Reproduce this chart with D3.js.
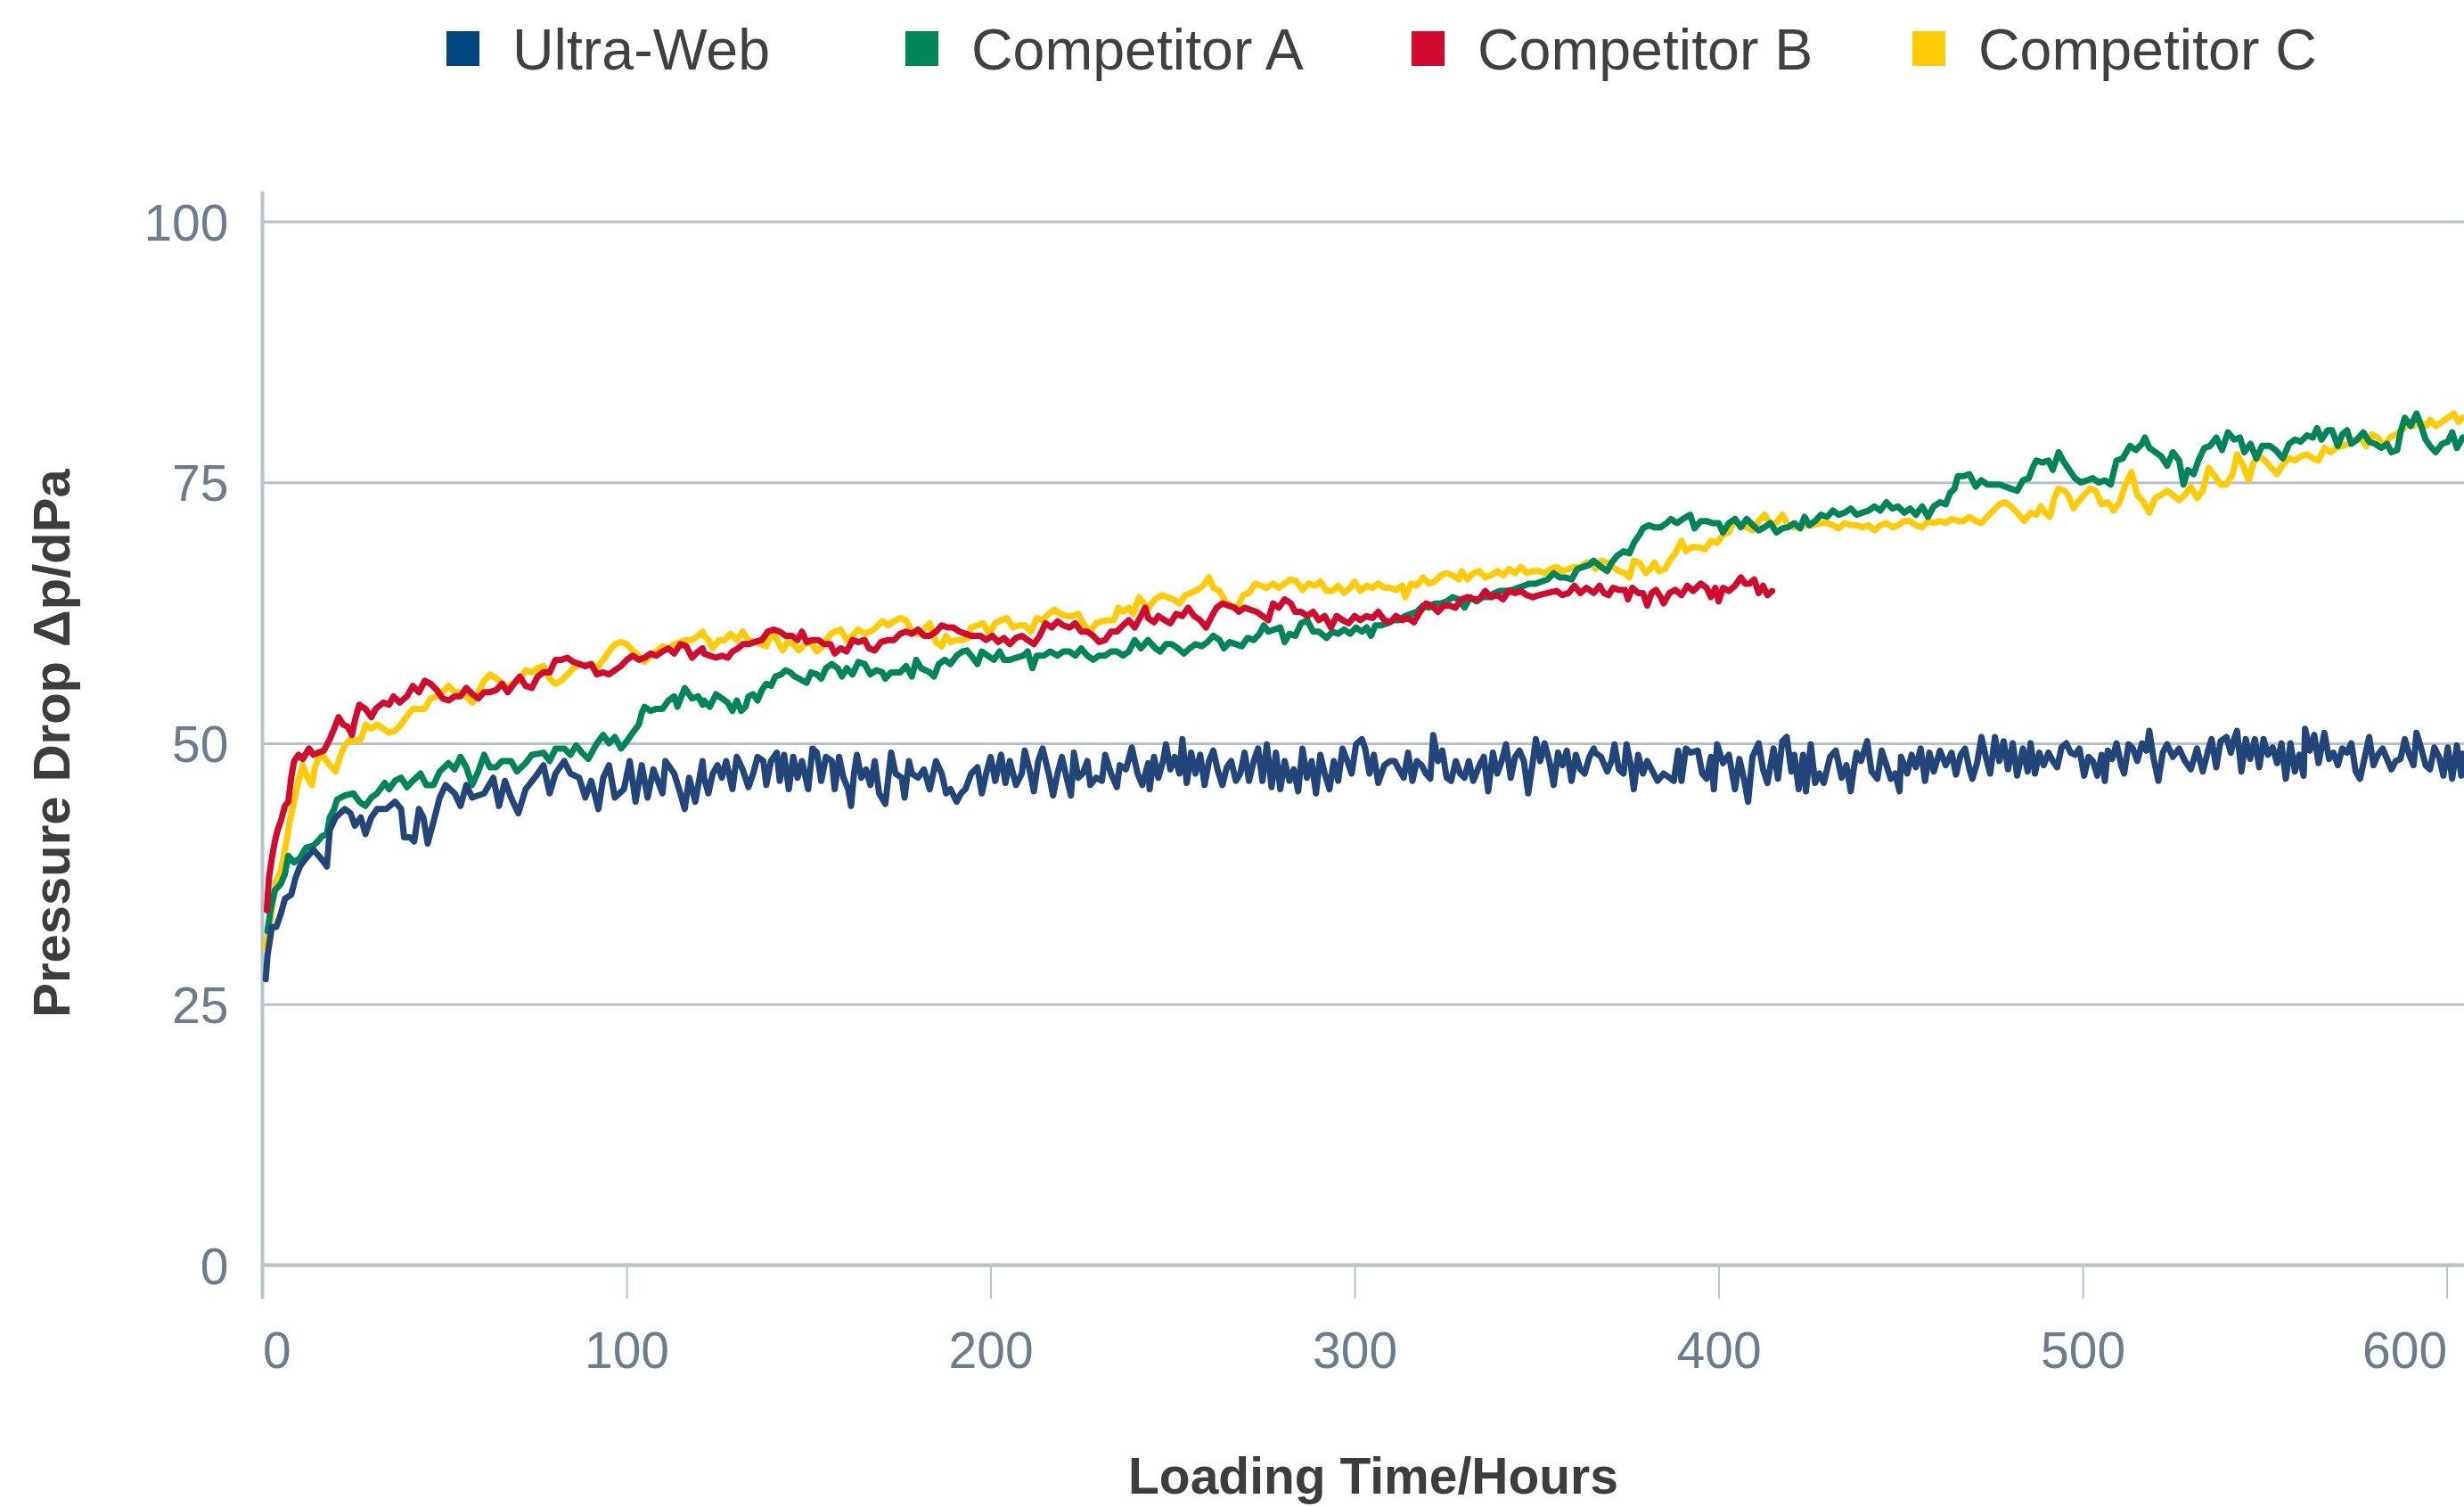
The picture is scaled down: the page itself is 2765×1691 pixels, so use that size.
<!DOCTYPE html>
<html><head><meta charset="utf-8">
<script src="https://cdn.jsdelivr.net/npm/d3@7"></script>
<style>html,body{margin:0;padding:0;background:#fff;overflow:hidden}</style>
</head><body><svg id="chart" width="2765" height="1691"></svg>
<script>
const seriesNames = ["Ultra-Web", "Competitor A", "Competitor B", "Competitor C"];
const seriesColors = ["#23467a", "#00845a", "#d20a2e", "#ffcb05"];
const legendColors = ["#00477f", "#00845a", "#d20a2e", "#ffcb05"];
const xTicks = [0, 100, 200, 300, 400, 500, 600];
const yTicks = [0, 25, 50, 75, 100];
const xTitle = "Loading Time/Hours";
const yTitle = "Pressure Drop Δp/dPa";

// [hours, pressure drop]
const ultraWeb = [
[0.9,27.4],[1.4,29.7],[2.6,32.4],[3.8,32.4],[5.0,33.6],[6.2,35.1],[7.9,35.5],[9.1,37.1],[10.3,38.2],[12.0,39.0],[14.0,39.8],[16.0,39.0],[17.7,38.2],[18.5,41.7],[20.1,42.9],[22.6,43.7],[24.2,43.3],[25.4,42.1],[27.0,42.9],[28.3,41.3],[29.9,42.9],[31.5,43.7],[34.0,43.7],[36.4,44.4],[38.1,43.7],[38.9,41.0],[40.5,41.0],[41.7,40.6],[43.0,43.7],[44.2,42.9],[45.4,40.4],[47.0,42.5],[48.7,44.8],[50.3,46.0],[52.8,45.2],[54.4,44.0],[56.0,46.0],[57.6,44.8],[60.9,45.2],[63.4,46.7],[65.0,44.0],[66.6,46.4],[68.3,44.8],[70.3,43.3],[72.3,45.6],[74.8,46.7],[77.2,47.9],[78.9,45.2],[80.5,47.1],[82.9,48.3],[84.6,47.1],[87.0,46.7],[88.7,44.8],[90.3,46.4],[92.3,43.7],[93.6,46.7],[95.2,47.9],[96.8,44.8],[99.3,45.6],[100.9,48.3],[102.5,44.4],[104.2,47.9],[105.8,44.8],[107.4,47.5],[109.9,45.2],[110.7,48.3],[113.1,47.1],[114.8,45.2],[116.0,43.7],[117.2,46.7],[118.9,44.4],[120.9,48.3],
[121.3,46.7],[122.5,45.2],[123.7,47.1],[125.0,47.9],[126.2,46.7],[127.4,48.3],[129.1,45.6],[130.3,48.7],[131.9,47.5],[133.5,45.8],[134.8,47.1],[136.0,48.7],[137.6,48.3],[138.4,46.0],[139.7,48.3],[141.3,49.1],[142.1,46.4],[143.3,48.9],[144.6,45.6],[145.8,48.7],[147.0,46.7],[148.2,48.3],[149.9,45.6],[151.1,49.5],[152.3,49.1],[153.5,46.4],[154.8,48.7],[156.4,48.3],[157.2,45.6],[158.4,48.7],[159.6,46.7],[160.9,45.6],[161.7,44.0],[162.5,47.1],[163.3,48.9],[164.5,46.7],[165.8,47.5],[167.0,46.0],[168.2,48.3],[169.4,45.2],[171.1,44.2],[172.7,49.1],[173.9,47.1],[175.6,46.7],[176.4,44.8],[177.6,48.3],[178.4,47.1],[180.1,46.7],[181.7,47.5],[183.3,45.6],[185.0,48.3],[186.6,47.1],[187.8,45.2],[189.0,45.6],[190.7,44.4],[191.9,45.2],[193.1,45.6],[194.7,47.1],[196.4,47.7],[197.6,45.2],[198.8,47.1],[200.0,48.7],[201.3,46.4],[202.9,48.9],[204.1,46.2],[205.3,48.3],[207.0,46.0],[208.6,47.1],[209.4,49.3],[210.7,47.5],[211.9,45.4],[213.1,48.3],[214.3,49.5],[216.0,47.1],[217.2,45.0],[218.4,47.1],[219.6,48.7],[220.9,46.7],[222.1,45.0],[222.9,49.1],[224.1,46.7],[225.3,47.1],[226.6,48.3],[227.4,46.0],[229.0,46.7],[230.6,46.4],[231.5,48.9],[233.1,47.1],[234.7,45.8],[235.5,47.9],[237.2,47.5],[238.8,49.6],[240.4,47.1],[241.7,46.0],[243.3,48.1],
[243.7,45.6],[244.9,48.7],[246.1,46.7],[247.4,48.3],[248.2,49.9],[249.4,47.5],[250.6,48.7],[251.9,47.1],[252.7,50.4],[253.9,46.2],[255.1,49.1],[256.3,47.1],[257.6,48.9],[258.8,46.0],[260.0,48.3],[261.2,49.3],[262.5,47.3],[263.7,46.0],[264.9,47.7],[266.1,48.3],[267.4,46.4],[268.6,47.1],[269.8,49.1],[271.0,46.4],[272.3,48.3],[273.5,49.5],[274.7,46.4],[275.9,49.9],[277.2,45.8],[278.4,49.1],[279.6,45.6],[280.8,48.3],[282.1,46.4],[283.3,47.5],[284.5,45.4],[285.7,49.5],[286.9,46.7],[288.2,48.3],[289.4,45.2],[290.6,48.9],[291.8,47.1],[293.1,45.6],[294.3,48.3],[295.5,46.4],[296.7,49.5],[298.0,48.3],[299.2,47.1],[300.4,49.9],[302.0,50.4],[302.9,49.5],[304.1,47.1],[305.3,48.9],[306.5,46.2],[308.2,47.9],[309.8,48.3],[311.0,48.3],[312.2,47.5],[313.5,46.7],[314.7,49.1],[315.9,46.4],[317.1,48.3],[318.4,47.9],[319.6,47.1],[320.8,46.6],[321.6,50.8],[322.9,48.3],[324.1,49.3],[325.3,46.7],[326.5,46.4],[327.8,48.3],[329.0,47.1],[330.2,46.7],[331.4,48.3],[332.6,46.4],[334.3,47.9],[335.5,48.7],[336.7,45.4],[338.0,49.1],[339.2,47.1],[340.4,48.3],[341.6,49.9],[342.9,46.7],[344.1,48.7],[345.3,49.3],[346.5,48.3],[347.7,45.2],[349.0,48.3],[349.8,50.4],[351.0,48.3],[352.2,50.0],[353.5,48.3],[354.7,46.0],[355.9,49.1],[357.1,47.9],[358.3,49.3],[359.6,46.4],[360.8,48.9],[362.0,47.5],[363.2,47.1],[364.5,48.7],[365.7,49.5],
[366.1,49.1],[367.7,48.7],[369.4,47.3],[370.6,48.3],[371.4,49.9],[372.6,47.5],[373.9,47.1],[374.7,49.9],[375.9,47.9],[376.7,45.6],[377.9,48.9],[379.2,47.1],[380.4,48.3],[381.6,47.5],[383.2,46.4],[384.9,47.1],[386.5,46.7],[387.7,46.4],[388.9,49.3],[389.8,46.4],[391.0,49.5],[392.2,49.1],[394.3,49.3],[395.5,47.1],[396.7,46.6],[397.9,48.7],[398.7,45.6],[399.6,49.9],[401.2,48.1],[402.8,48.9],[404.5,45.6],[405.7,48.5],[406.9,46.7],[408.1,44.4],[409.3,48.7],[411.0,50.0],[412.2,47.5],[413.4,46.2],[415.1,49.5],[416.3,46.6],[417.5,50.2],[418.7,50.6],[420.0,47.3],[420.8,48.9],[422.0,45.6],[423.2,48.9],[424.0,45.4],[425.3,49.9],[426.5,46.2],[427.7,47.1],[428.9,46.2],[430.6,48.7],[432.2,49.3],[433.8,46.7],[435.1,47.9],[436.3,45.4],[437.1,47.5],[437.9,49.1],[439.1,48.3],[440.8,50.2],[442.0,47.3],[443.6,46.6],[444.8,49.3],[446.1,47.9],[447.3,46.6],[448.5,47.1],[449.7,45.4],[450.1,48.7],[451.8,47.1],[453.0,48.9],[454.2,47.7],[455.5,49.5],[456.7,46.4],[457.9,49.1],[459.1,47.3],[460.8,49.3],[462.4,47.9],[464.0,49.1],[465.2,47.0],[466.5,48.9],[467.7,49.5],[468.9,47.5],[469.7,46.6],[471.0,48.1],[472.2,50.6],[473.4,48.7],[474.6,47.1],[475.9,50.6],[477.1,48.3],[478.3,50.2],[479.5,47.5],[480.8,50.0],[482.0,46.9],
[483.6,49.5],[484.9,47.3],[485.7,50.0],[486.9,47.1],[488.1,49.1],[489.3,47.9],[490.6,49.1],[491.8,48.3],[493.0,47.7],[494.2,49.6],[495.5,50.0],[496.7,49.1],[497.9,48.9],[499.1,49.5],[500.4,46.9],[501.6,48.7],[502.8,48.3],[504.0,46.9],[505.2,48.9],[506.1,46.4],[506.9,49.3],[508.1,48.5],[509.3,50.0],[510.6,47.9],[511.4,47.1],[512.6,49.9],[513.8,49.5],[515.0,48.3],[516.3,50.0],[517.5,49.3],[518.3,51.2],[519.5,48.5],[520.8,46.4],[522.0,49.1],[523.2,49.9],[524.8,48.7],[526.5,49.5],[528.1,48.3],[529.7,47.5],[531.4,49.5],[533.0,47.3],[534.6,49.5],[535.4,50.4],[536.7,47.7],[537.9,50.2],[539.5,50.6],[540.7,49.1],[541.6,50.4],[542.4,51.2],[543.6,47.3],[544.8,50.4],[546.0,48.5],[547.3,50.4],[548.5,47.7],[549.7,50.4],[550.9,48.9],[552.2,49.6],[553.4,48.1],[554.6,50.0],[555.8,46.6],[557.1,50.0],[558.3,47.3],[559.5,48.9],[560.7,46.9],[561.1,51.4],[562.4,49.3],[563.6,50.8],[564.8,48.1],[566.4,51.0],[567.7,48.5],[568.9,49.1],[570.1,47.9],[571.3,49.5],[572.6,49.1],[573.8,50.0],[575.0,47.3],[576.2,46.6],[577.5,48.7],[578.7,50.6],[579.9,47.9],[581.1,48.9],[582.4,49.5],[583.6,48.5],[584.8,47.5],[586.0,48.3],[587.3,48.5],[588.5,50.4],[589.7,48.9],[590.9,47.9],[591.7,51.0],[593.0,49.5],[594.2,47.9],[595.4,47.5],[596.6,49.6],[597.9,48.7],[599.1,46.9],[600.3,49.6],[601.5,46.6],[602.8,49.8],[604.0,46.9],[604.4,49.0]
];

const competitorA = [
[1.4,32.0],[2.2,34.0],[3.4,35.9],[5.0,36.5],[6.2,37.5],[7.1,39.2],[8.7,38.6],[10.3,39.0],[12.0,40.0],[14.0,40.2],[15.2,40.6],[16.4,41.1],[17.7,41.3],[18.5,42.9],[19.7,43.7],[20.5,44.6],[22.6,45.0],[25.0,45.2],[26.6,44.4],[28.3,44.0],[29.9,44.8],[31.5,45.2],[33.6,46.2],[34.8,45.6],[36.4,46.4],[38.1,46.7],[39.7,45.8],[41.3,46.4],[43.4,47.1],[45.0,46.0],[47.0,46.0],[48.7,47.3],[51.1,48.1],[52.8,47.5],[54.4,48.7],[56.0,47.7],[57.6,46.0],[59.3,47.3],[60.9,48.9],[62.5,47.7],[64.2,47.7],[65.8,48.3],[68.3,48.3],[69.9,47.3],[72.3,48.1],[74.0,48.9],[77.2,49.1],[78.9,48.3],[80.5,49.5],[82.9,49.5],[84.6,48.9],[86.2,49.8],[87.8,49.1],[89.5,48.5],[91.9,50.0],[93.6,50.8],[95.2,50.0],[96.8,50.6],[98.5,49.5],[100.1,50.2],[101.7,51.0],[103.4,51.8],[104.2,52.9],[105.0,53.5],[106.6,53.1],[108.2,53.3],[109.9,53.3],[111.5,54.1],[113.1,54.5],[114.0,53.5],[116.0,55.3],[118.0,54.3],[119.7,54.5],[120.9,53.7],
[121.3,54.1],[122.9,53.5],[124.6,54.7],[126.2,54.3],[127.8,53.9],[129.1,53.1],[130.3,54.1],[131.5,53.1],[132.7,53.5],[133.5,54.5],[134.8,54.7],[136.0,54.1],[137.2,55.1],[138.4,55.7],[139.7,55.5],[140.9,56.4],[142.5,56.6],[143.7,57.0],[145.0,56.8],[146.2,56.4],[147.4,56.2],[149.5,55.8],[150.7,56.8],[152.3,56.6],[153.5,56.2],[154.8,57.2],[156.4,57.6],[158.0,57.2],[159.2,56.4],[160.5,57.2],[162.1,56.6],[163.7,57.8],[165.4,57.6],[167.0,56.6],[168.6,57.0],[170.3,56.8],[171.1,56.2],[172.7,56.8],[175.2,56.8],[176.8,57.4],[178.4,56.4],[179.6,58.0],[180.9,57.2],[183.3,56.8],[184.5,56.4],[185.8,57.6],[187.4,58.0],[189.0,57.6],[190.7,58.4],[192.3,58.8],[193.5,58.9],[194.7,58.4],[196.4,57.6],[197.6,58.8],[199.2,58.4],[200.9,58.0],[202.5,58.8],[203.7,58.0],[205.3,58.0],[207.0,58.2],[209.0,58.4],[210.2,58.8],[211.5,57.2],[212.7,58.4],[214.7,58.4],[216.4,58.8],[218.4,58.4],[220.0,58.8],[221.7,58.8],[223.3,58.4],[224.9,59.1],[226.6,58.4],[228.2,58.0],[229.8,58.4],[231.5,58.4],[233.1,58.8],[234.7,58.8],[236.4,58.4],[238.0,58.8],[239.6,59.9],[241.3,59.1],[243.3,59.9],
[243.7,59.7],[245.3,59.1],[246.6,58.8],[248.2,59.5],[249.8,59.5],[251.5,59.1],[253.1,58.6],[254.7,59.1],[256.3,59.5],[258.0,59.3],[259.6,59.7],[261.2,60.3],[262.9,59.9],[264.1,59.1],[265.7,59.7],[267.4,59.5],[269.0,59.3],[270.6,60.1],[272.3,59.9],[273.9,60.5],[275.1,61.3],[276.3,60.7],[278.0,60.9],[279.6,61.1],[280.8,59.7],[282.1,60.5],[283.7,60.3],[285.3,61.5],[287.0,61.8],[288.6,60.7],[290.2,60.7],[292.3,60.1],[293.9,60.7],[295.5,60.5],[297.1,60.9],[298.8,60.5],[300.4,61.1],[302.0,60.7],[303.3,61.1],[304.5,60.3],[305.7,61.3],[307.3,61.3],[309.0,61.5],[310.6,61.8],[312.2,61.8],[313.9,62.2],[315.5,62.4],[317.1,62.6],[318.8,63.2],[320.4,63.0],[322.0,63.4],[323.7,63.4],[325.3,63.6],[326.9,64.0],[328.6,63.8],[330.2,63.0],[331.8,64.0],[333.5,63.6],[335.1,64.0],[336.7,64.0],[338.4,64.4],[340.0,64.6],[341.6,64.6],[343.3,64.7],[344.9,64.9],[346.5,65.1],[348.1,65.3],[349.8,65.3],[351.4,65.5],[353.0,65.7],[354.7,66.3],[356.3,65.9],[357.9,65.9],[359.6,65.7],[361.2,66.7],[362.8,66.9],[364.5,67.1],[365.7,67.5],
[367.7,66.9],[369.4,66.5],[370.6,67.3],[372.2,68.0],[373.9,68.4],[375.5,68.2],[376.7,69.2],[378.3,70.0],[379.2,70.6],[380.8,70.9],[382.4,70.7],[384.1,70.7],[385.7,71.1],[386.9,71.5],[388.5,71.1],[390.2,71.5],[392.2,71.9],[393.4,70.6],[395.1,71.3],[396.7,71.3],[398.3,71.1],[400.0,71.1],[401.2,70.2],[402.8,71.1],[404.5,71.5],[406.1,70.7],[407.7,71.5],[409.4,70.9],[411.0,70.4],[412.6,70.7],[414.2,71.1],[415.9,70.2],[417.5,70.6],[419.1,70.7],[420.8,71.1],[422.4,70.6],[423.6,71.7],[424.9,70.9],[426.5,71.3],[428.1,71.9],[429.8,71.7],[431.4,72.3],[433.0,71.9],[434.6,72.1],[436.3,72.5],[437.9,71.9],[439.5,72.1],[441.2,72.3],[442.8,72.7],[444.4,72.3],[446.1,73.1],[447.7,72.5],[449.3,72.7],[451.0,72.1],[452.6,72.5],[454.2,71.9],[455.9,72.7],[457.5,71.7],[459.1,72.7],[460.8,73.1],[462.4,72.9],[463.6,74.0],[464.8,74.4],[465.7,75.6],[467.3,75.6],[468.9,75.8],[470.6,74.6],[472.2,75.2],[473.8,74.8],[475.4,74.8],[477.1,74.8],[478.7,74.6],[480.3,74.4],[482.0,74.2],
[483.6,75.2],[485.2,75.4],[486.5,76.6],[487.3,77.1],[488.9,76.9],[490.6,77.1],[491.8,76.2],[493.4,77.9],[494.6,77.1],[496.3,76.2],[497.9,75.4],[499.5,75.0],[501.2,75.2],[502.8,75.4],[504.4,75.0],[506.1,75.2],[507.7,74.8],[509.3,77.1],[511.0,77.3],[513.0,78.5],[514.6,78.1],[516.3,78.7],[517.1,79.3],[518.3,78.3],[520.0,77.9],[521.6,77.5],[523.2,76.6],[524.8,77.9],[526.5,77.1],[527.7,74.8],[528.9,76.2],[530.5,75.8],[531.8,77.1],[533.4,78.3],[535.0,78.5],[536.7,79.3],[538.3,78.1],[539.9,79.8],[541.6,79.1],[543.2,79.3],[544.4,77.9],[546.1,78.7],[547.7,77.3],[549.3,78.5],[551.4,78.5],[553.0,78.1],[555.0,77.3],[556.7,78.7],[558.3,79.1],[559.9,78.9],[561.6,79.5],[563.2,79.3],[564.4,80.2],[565.6,79.1],[567.3,80.0],[568.5,80.0],[570.1,78.5],[571.3,79.6],[572.6,80.0],[573.8,78.7],[575.4,79.1],[577.1,79.8],[578.7,78.9],[580.3,78.7],[582.0,78.3],[583.6,78.7],[584.8,77.9],[586.4,78.1],[587.3,79.8],[588.5,81.2],[590.1,80.4],[591.7,81.6],[593.0,80.4],[594.2,79.1],[595.4,78.5],[597.0,77.9],[598.7,78.7],[600.3,78.9],[601.5,79.8],[602.8,78.3],[604.4,79.3]
];

const competitorB = [
[1.2,34.0],[1.8,37.1],[2.6,39.0],[3.4,40.6],[4.2,41.7],[5.0,42.5],[6.2,44.0],[7.1,44.4],[7.9,46.7],[8.7,48.3],[9.9,48.9],[11.1,48.5],[12.8,49.5],[14.0,48.9],[15.2,49.1],[16.9,49.3],[18.5,50.4],[19.7,51.4],[20.9,52.5],[22.2,51.8],[23.4,51.6],[24.6,50.8],[25.4,52.2],[26.6,53.7],[28.3,53.3],[29.9,52.5],[31.1,53.3],[33.2,53.9],[34.8,53.7],[36.0,54.5],[37.7,53.9],[39.7,54.5],[41.3,55.5],[43.0,54.9],[44.6,56.0],[46.2,55.7],[47.9,55.1],[49.5,54.3],[51.1,54.1],[52.8,54.5],[54.4,54.5],[56.0,55.3],[57.7,54.7],[59.3,54.3],[60.9,54.9],[62.5,54.9],[64.2,55.1],[65.8,55.7],[67.4,54.9],[69.1,55.7],[70.7,56.4],[72.3,55.5],[74.0,55.3],[75.6,56.4],[77.2,56.8],[78.9,56.8],[80.5,58.0],[82.1,58.0],[83.8,58.2],[85.4,57.8],[87.0,57.6],[88.7,57.4],[90.3,57.6],[91.9,56.6],[93.6,56.8],[95.2,56.6],[96.8,57.0],[98.5,57.4],[100.1,58.0],[101.7,58.4],[103.4,58.0],[105.0,58.2],[106.6,58.6],[108.2,58.4],[109.9,58.8],[111.5,59.1],[113.1,58.6],[114.8,59.5],[116.4,59.3],[118.0,58.2],[119.7,58.8],[120.9,59.1],
[121.3,58.6],[122.9,58.4],[124.6,58.2],[126.2,58.4],[127.8,58.2],[129.1,58.8],[130.7,59.1],[131.9,59.5],[133.5,59.5],[135.2,59.7],[137.2,59.9],[138.8,60.7],[140.5,60.9],[142.1,60.7],[143.7,60.3],[145.4,60.3],[147.0,59.9],[148.2,60.7],[149.5,59.7],[151.1,59.9],[152.7,59.9],[154.3,59.5],[156.0,59.5],[157.2,58.6],[158.8,59.1],[160.5,58.8],[162.1,59.9],[163.7,59.7],[165.4,59.9],[166.6,59.1],[168.2,58.9],[169.9,59.7],[171.9,59.9],[173.5,59.9],[175.2,60.5],[176.8,60.7],[178.4,60.5],[180.1,60.9],[181.7,60.3],[183.3,60.3],[185.0,60.7],[186.6,61.3],[188.2,61.1],[189.8,61.1],[191.5,60.7],[193.1,60.5],[194.7,60.3],[197.2,60.3],[198.8,59.9],[200.5,60.3],[202.1,59.7],[203.7,60.1],[205.3,59.5],[207.0,60.1],[208.6,60.3],[210.2,59.9],[211.9,59.5],[213.5,60.3],[215.1,61.5],[216.8,61.1],[218.4,61.7],[220.0,61.3],[221.7,61.1],[223.3,61.5],[224.9,60.7],[226.6,60.7],[228.2,60.3],[229.8,59.7],[231.5,59.9],[233.1,60.7],[234.7,60.7],[236.4,61.3],[238.0,61.8],[239.6,61.1],[241.3,62.2],[242.5,63.0],[243.3,62.0],
[244.9,61.6],[246.1,62.2],[247.8,61.8],[249.4,61.5],[251.0,62.4],[252.7,62.2],[254.3,63.0],[255.9,62.2],[257.6,61.8],[259.2,61.1],[260.8,62.2],[262.1,63.0],[263.7,63.4],[265.3,63.2],[267.0,63.0],[268.2,62.6],[269.8,63.0],[271.4,62.8],[273.1,62.6],[274.7,62.2],[276.3,61.8],[277.6,63.4],[279.2,63.0],[280.8,63.8],[282.5,63.4],[283.7,62.6],[285.3,62.6],[287.0,62.2],[288.6,62.6],[290.2,61.8],[291.8,62.2],[293.5,61.1],[295.1,62.2],[296.7,61.8],[298.4,61.5],[300.0,62.2],[301.6,61.8],[303.3,62.2],[304.9,62.0],[306.5,62.6],[308.2,61.8],[309.8,61.6],[311.4,62.2],[313.1,61.8],[314.7,62.0],[316.3,61.6],[318.0,62.6],[319.6,63.4],[321.2,63.2],[322.9,62.6],[324.5,63.2],[326.1,63.2],[327.7,63.0],[329.4,63.8],[331.0,64.0],[332.6,63.8],[334.3,63.8],[335.9,64.6],[337.5,64.0],[339.2,64.2],[340.8,63.8],[342.4,64.6],[344.1,64.4],[345.7,64.6],[347.3,64.2],[349.0,64.0],[350.6,64.2],[353.0,64.4],[355.5,64.6],[357.1,64.2],[358.8,64.4],[360.4,65.1],[362.0,64.4],[363.7,64.9],[365.7,64.4],
[367.3,65.1],[368.5,64.4],[369.8,64.2],[371.0,64.9],[372.6,64.7],[374.3,64.7],[375.1,63.8],[376.3,64.9],[377.9,64.4],[379.2,64.4],[380.4,63.2],[381.6,64.4],[382.8,64.7],[384.1,64.0],[384.9,63.4],[386.5,64.4],[388.1,64.7],[389.8,64.2],[391.4,65.1],[393.0,64.6],[395.1,65.3],[396.7,64.9],[397.9,64.0],[399.1,64.9],[400.0,63.6],[401.2,64.9],[402.8,64.6],[404.5,65.1],[406.1,65.9],[407.3,65.3],[408.5,65.3],[409.8,65.7],[411.0,64.4],[412.2,65.1],[413.4,64.2],[414.7,64.6]
];

const competitorC = [
[0.7,30.5],[1.8,32.0],[3.0,35.1],[3.8,36.7],[5.0,37.8],[6.2,39.8],[7.5,42.5],[8.7,44.4],[9.9,46.4],[11.1,47.9],[12.4,46.7],[13.6,46.0],[14.4,47.7],[15.6,48.7],[16.9,48.7],[18.5,47.9],[20.1,47.3],[21.3,48.7],[22.6,49.8],[24.2,50.4],[25.8,50.2],[27.1,50.4],[28.3,51.8],[29.9,51.4],[31.5,51.8],[33.2,51.4],[34.8,51.0],[36.4,51.2],[38.1,51.8],[39.7,52.6],[41.3,53.3],[43.0,53.3],[44.6,53.3],[46.2,54.3],[47.9,54.5],[49.5,54.9],[51.1,55.5],[52.8,54.9],[54.4,54.9],[56.0,54.5],[57.7,53.9],[59.3,54.9],[60.9,56.0],[62.5,56.6],[64.2,56.2],[65.8,55.8],[67.4,55.3],[69.1,55.8],[70.7,56.0],[72.3,57.0],[74.0,56.8],[75.6,57.2],[77.2,57.4],[78.9,56.2],[80.5,55.7],[82.1,56.0],[83.8,56.6],[85.4,57.2],[87.0,57.6],[88.7,57.4],[90.3,57.6],[91.9,57.2],[93.6,58.0],[95.2,58.8],[96.8,59.5],[98.5,59.7],[100.1,59.5],[101.7,58.9],[103.4,58.4],[105.0,57.8],[106.6,58.4],[108.2,58.8],[109.9,59.3],[111.5,59.1],[113.1,59.5],[114.8,59.7],[116.4,59.9],[118.0,59.9],[119.7,60.3],[120.9,60.7],
[121.3,60.3],[122.5,59.9],[123.7,59.1],[125.4,59.9],[127.0,59.9],[128.6,60.5],[130.3,59.9],[131.9,60.7],[133.5,59.9],[135.2,59.7],[136.8,59.5],[138.4,59.3],[140.1,60.7],[141.7,59.7],[142.9,58.9],[144.2,59.7],[145.8,59.5],[147.4,58.9],[149.0,59.5],[150.7,59.7],[152.3,58.8],[153.9,59.3],[155.6,60.3],[157.2,60.7],[158.8,60.9],[160.5,59.9],[162.1,60.3],[163.7,60.9],[165.4,60.5],[167.0,60.7],[168.6,61.1],[170.3,61.7],[171.9,61.3],[173.5,61.7],[175.2,62.0],[176.8,61.8],[178.4,60.7],[180.1,60.5],[181.7,60.9],[183.3,61.5],[185.0,59.7],[186.6,59.3],[187.8,60.3],[189.0,59.7],[190.7,59.9],[192.3,59.9],[193.9,60.1],[194.7,61.1],[196.4,61.3],[198.0,61.5],[199.6,60.5],[201.3,61.5],[202.9,61.8],[204.5,62.0],[206.2,61.1],[207.8,61.3],[209.4,61.3],[211.1,60.7],[212.7,62.0],[214.3,61.8],[216.0,62.4],[217.6,62.8],[219.2,62.4],[220.9,62.2],[222.5,62.2],[224.1,62.4],[225.8,61.3],[227.4,60.7],[229.0,61.5],[230.6,61.7],[232.3,61.8],[233.9,61.8],[235.1,63.0],[236.4,62.6],[238.0,63.0],[239.2,62.4],[240.8,64.0],[242.1,63.4],[243.3,62.8],
[243.7,63.2],[245.3,63.8],[247.0,64.2],[248.6,64.0],[250.2,63.8],[251.9,63.4],[253.5,64.2],[255.1,64.4],[256.8,64.7],[258.4,65.1],[260.0,65.9],[261.2,64.9],[262.9,64.6],[264.5,63.6],[266.1,63.2],[267.8,63.0],[269.4,64.2],[271.0,64.4],[272.7,65.3],[274.3,65.1],[275.9,64.9],[277.6,65.3],[279.2,64.9],[280.8,65.3],[282.5,65.7],[284.1,65.5],[285.7,64.7],[287.4,65.3],[289.0,65.1],[290.6,65.5],[292.3,64.6],[293.9,64.6],[295.5,65.1],[297.1,64.4],[298.8,64.9],[300.0,65.5],[301.6,64.6],[303.3,65.1],[304.9,64.9],[306.5,65.3],[308.2,64.9],[309.8,64.9],[311.4,64.7],[313.1,65.1],[313.9,64.0],[315.5,65.3],[317.1,65.1],[318.8,65.9],[320.4,65.3],[322.0,65.5],[323.7,66.1],[325.3,66.3],[326.9,66.1],[328.6,65.7],[329.4,66.5],[331.0,65.7],[332.6,66.3],[334.3,66.5],[335.9,65.9],[337.5,66.1],[339.2,66.5],[340.8,66.1],[342.4,66.7],[344.1,66.3],[345.7,66.9],[347.3,66.3],[349.0,66.5],[350.6,66.5],[352.2,66.3],[353.9,66.7],[355.5,66.9],[357.1,66.5],[358.8,66.7],[360.4,66.9],[362.0,66.9],[363.7,67.3],[365.7,67.3],
[366.1,66.7],[367.7,67.5],[369.4,67.3],[371.0,66.9],[372.6,66.5],[374.3,66.3],[375.5,65.9],[376.7,67.5],[378.3,67.3],[380.0,66.3],[381.2,66.7],[382.4,67.3],[383.6,66.5],[385.3,66.7],[386.5,67.5],[388.1,68.2],[389.8,69.4],[391.0,68.4],[392.6,68.8],[394.3,68.8],[396.3,68.6],[397.9,69.4],[399.6,69.2],[401.2,70.0],[402.8,70.2],[404.5,71.5],[406.1,70.9],[407.7,70.7],[409.4,70.4],[411.0,71.3],[412.6,71.9],[414.2,71.1],[415.9,71.1],[417.5,71.9],[419.1,70.9],[420.8,70.7],[422.4,70.7],[424.0,70.9],[425.7,70.9],[428.1,71.1],[429.8,71.1],[431.4,70.9],[433.0,70.6],[434.6,71.1],[436.3,70.9],[437.9,70.9],[439.5,70.7],[441.2,70.9],[442.8,70.4],[444.4,70.9],[446.1,71.1],[447.7,70.7],[449.3,70.9],[451.0,71.3],[452.6,71.3],[454.2,70.9],[455.9,70.7],[457.5,71.3],[459.1,71.1],[460.8,71.3],[462.4,71.1],[464.0,71.5],[465.7,71.3],[467.3,71.3],[468.9,71.7],[470.6,71.3],[472.2,71.1],[473.8,71.7],[475.4,72.3],[477.1,72.9],[478.7,73.1],[480.3,72.7],[482.0,72.1],
[484.0,71.3],[485.7,72.1],[487.3,71.9],[488.5,72.7],[489.7,72.1],[491.0,71.7],[492.2,73.5],[493.4,74.4],[495.0,74.2],[496.3,73.6],[497.5,72.5],[498.7,73.1],[500.4,73.8],[502.0,74.4],[503.6,74.2],[505.2,72.9],[506.9,73.1],[508.5,72.3],[510.1,73.1],[511.8,74.8],[513.4,76.0],[515.0,73.8],[516.7,73.1],[518.3,72.1],[519.9,73.5],[521.6,73.8],[523.2,74.2],[524.8,73.8],[526.5,73.3],[528.1,73.8],[529.7,74.6],[531.4,73.5],[533.0,74.2],[534.6,76.4],[536.3,75.6],[537.9,74.8],[539.5,74.8],[541.2,75.8],[542.4,77.7],[544.0,76.7],[545.6,75.2],[546.9,76.9],[548.5,77.5],[550.1,77.1],[551.8,76.4],[553.4,75.8],[555.0,76.7],[556.7,77.3],[558.3,77.1],[559.9,77.5],[561.6,77.7],[563.2,77.3],[564.8,77.1],[566.4,78.3],[568.1,77.9],[569.7,78.3],[571.3,78.5],[573.0,78.7],[574.6,79.1],[576.2,79.3],[577.9,78.5],[579.5,79.6],[581.1,79.3],[582.8,78.5],[584.4,79.3],[586.0,79.6],[587.7,80.0],[589.3,80.6],[590.9,80.4],[592.6,80.8],[594.2,80.4],[595.4,81.0],[597.0,80.4],[598.7,80.8],[600.3,81.2],[601.9,81.6],[603.2,80.8],[604.4,81.2]
];

const seriesData = [ultraWeb, competitorA, competitorB, competitorC];

// ---- layout ----
const W = 2765, H = 1691;
const plotLeft = 294.5, plotRight600 = 2745.6, plotBottom = 1419.5, plotTop100 = 248.6;
const axisColor = "#b8c2ca";
const tickTextColor = "#6b7d8c";
const titleColor = "#3d3d3d";
const fontFamily = "'Liberation Sans', Arial, Helvetica, sans-serif";

const x = d3.scaleLinear().domain([0, 600]).range([plotLeft, plotRight600]);
const y = d3.scaleLinear().domain([0, 100]).range([plotBottom, plotTop100]);

const svg = d3.select("#chart");
svg.append("rect").attr("width", W).attr("height", H).attr("fill", "#ffffff");

// y axis with gridlines
const yAxis = d3.axisLeft(y).tickValues(yTicks).tickSize(-(W - plotLeft)).tickPadding(38);
const gy = svg.append("g").attr("transform", `translate(${plotLeft},0)`).call(yAxis);
gy.select(".domain").remove();
gy.selectAll(".tick line").attr("stroke", axisColor).attr("stroke-width", 3);
gy.selectAll(".tick text").attr("fill", tickTextColor).attr("font-size", 57)
  .attr("font-family", fontFamily).attr("dy", "0.36em");

// x axis
const xAxis = d3.axisBottom(x).tickValues(xTicks).tickSize(38).tickPadding(37).tickFormat(d3.format("d"));
const gx = svg.append("g").attr("transform", `translate(0,${plotBottom})`).call(xAxis);
gx.select(".domain").remove();
gx.selectAll(".tick line").attr("stroke", axisColor).attr("stroke-width", 2);
gx.selectAll(".tick text").attr("fill", tickTextColor).attr("font-size", 57)
  .attr("font-family", fontFamily)
  .attr("text-anchor", (d, i) => i === 0 ? "start" : (i === xTicks.length - 1 ? "end" : "middle"));

// axis lines
svg.append("line").attr("x1", plotLeft).attr("x2", W).attr("y1", plotBottom).attr("y2", plotBottom)
  .attr("stroke", axisColor).attr("stroke-width", 4);
svg.append("line").attr("x1", plotLeft).attr("x2", plotLeft).attr("y1", y(102.9)).attr("y2", plotBottom + 38)
  .attr("stroke", axisColor).attr("stroke-width", 4);

// lines (drawing order: C, A, B, Ultra-Web on top)
const line = d3.line().x(d => x(d[0])).y(d => y(d[1]));
const drawOrder = [3, 1, 2, 0];
svg.append("g").selectAll("path").data(drawOrder).join("path")
  .attr("d", i => line(seriesData[i]))
  .attr("fill", "none")
  .attr("stroke", i => seriesColors[i])
  .attr("stroke-width", 7)
  .attr("stroke-linejoin", "round")
  .attr("stroke-linecap", "round");

// legend
const legendX = [501, 1016, 1584, 2146];
const lg = svg.append("g").selectAll("g").data(seriesNames).join("g")
  .attr("transform", (d, i) => `translate(${legendX[i]},0)`);
lg.append("rect").attr("x", 0).attr("y", 35).attr("width", 37).attr("height", 39)
  .attr("fill", (d, i) => legendColors[i]);
lg.append("text").attr("x", 74).attr("y", 78).text(d => d)
  .attr("font-size", 64.5).attr("font-family", fontFamily).attr("fill", "#404040");

// titles
svg.append("text").attr("x", 1541).attr("y", 1676).attr("text-anchor", "middle")
  .attr("font-size", 57).attr("font-weight", "bold").attr("font-family", fontFamily)
  .attr("fill", titleColor).text(xTitle);
svg.append("text").attr("transform", "translate(78,834) rotate(-90)").attr("text-anchor", "middle")
  .attr("font-size", 58).attr("font-weight", "bold").attr("font-family", fontFamily)
  .attr("fill", titleColor).text(yTitle);
</script>
</body></html>
